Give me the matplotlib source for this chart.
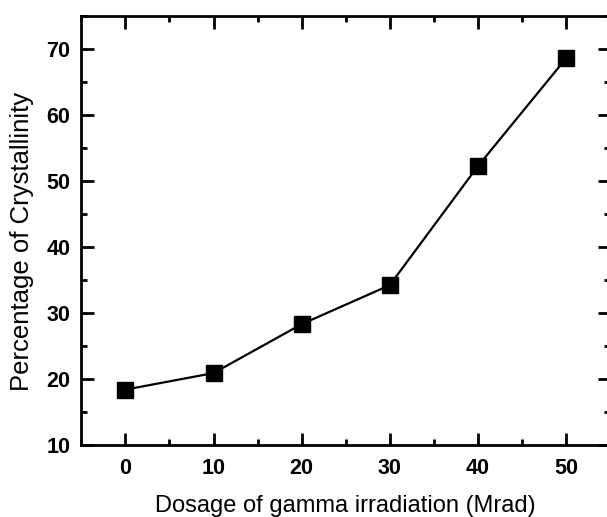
import matplotlib
matplotlib.use("Agg")
import matplotlib.pyplot as plt
from matplotlib.ticker import MultipleLocator

# values
dose = [0, 10, 20, 30, 40, 50]
crystallinity = [18.4, 20.9, 28.3, 34.2, 52.2, 68.5]

plt.rcParams["font.family"] = ["Liberation Sans", "DejaVu Sans"]

fig = plt.figure(figsize=(6.07, 5.17), dpi=100)
ax = fig.add_axes([0.134, 0.139, 0.871, 0.831])

ax.plot(dose, crystallinity, color="black", linewidth=1.6,
        marker="s", markersize=11, markerfacecolor="black", markeredgecolor="black")

ax.set_xlim(-5, 55)
ax.set_ylim(10, 75)
ax.xaxis.set_major_locator(MultipleLocator(10))
ax.xaxis.set_minor_locator(MultipleLocator(5))
ax.yaxis.set_major_locator(MultipleLocator(10))
ax.yaxis.set_minor_locator(MultipleLocator(5))

ax.tick_params(which="both", direction="in", top=True, right=True, width=2)
ax.tick_params(which="major", length=9, labelsize=15.5)
ax.tick_params(axis="x", which="major", pad=9)
ax.tick_params(axis="y", which="major", pad=8)
ax.tick_params(which="minor", length=4)
for lbl in ax.get_xticklabels() + ax.get_yticklabels():
    lbl.set_fontweight("bold")
for sp in ax.spines.values():
    sp.set_linewidth(2)

ax.set_xlabel("Dosage of gamma irradiation (Mrad)", fontsize=17, labelpad=12)
ax.set_ylabel("Percentage of Crystallinity", fontsize=18.5)
# label sits a little below the axes centre in the original
ax.yaxis.set_label_coords(-0.09, 0.474)

fig.savefig("out.png", dpi=100)
